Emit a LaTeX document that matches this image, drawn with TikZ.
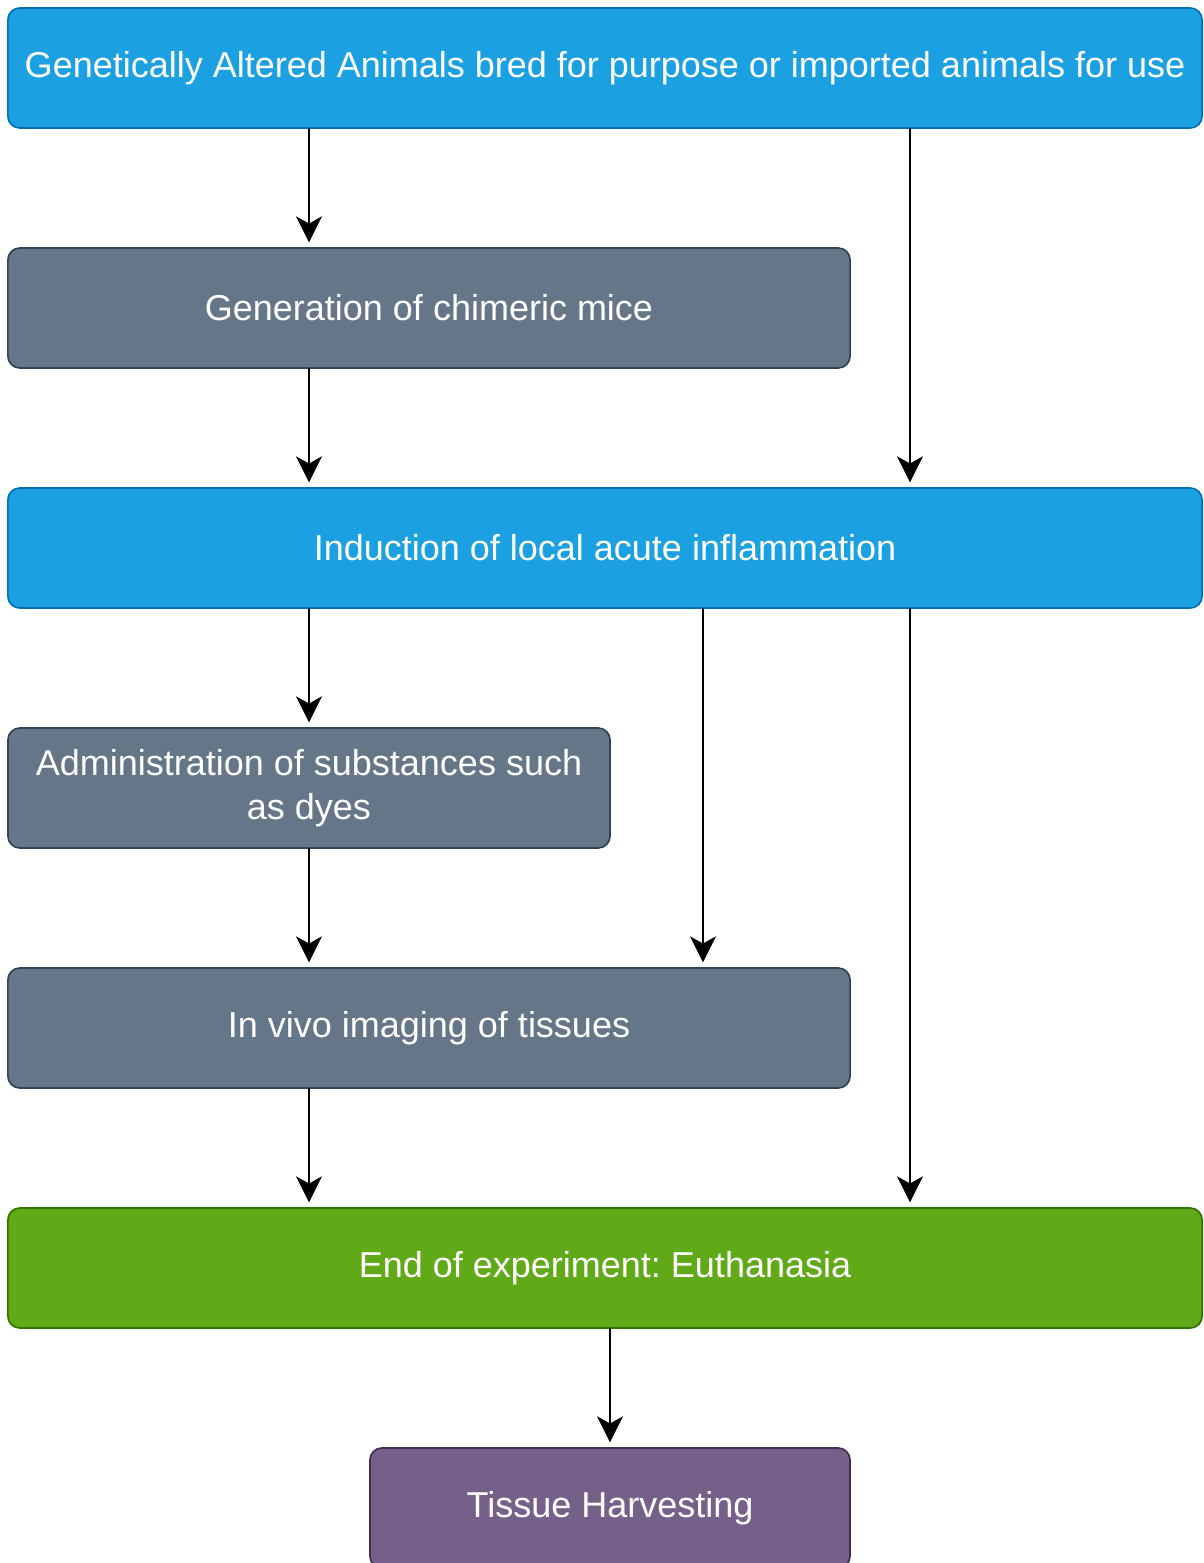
\documentclass[tikz,border=0pt]{standalone}
\usepackage{fontspec}
\setmainfont{Liberation Sans}
\frenchspacing
\usetikzlibrary{arrows.meta,positioning}
\definecolor{blueFill}{HTML}{1BA1E2}
\definecolor{blueLine}{HTML}{006EAF}
\definecolor{grayFill}{HTML}{647687}
\definecolor{grayLine}{HTML}{314354}
\definecolor{greenFill}{HTML}{60A917}
\definecolor{greenLine}{HTML}{2D7600}
\definecolor{purpleFill}{HTML}{76608A}
\definecolor{purpleLine}{HTML}{432D57}
\tikzset{
  box/.style={rounded corners=0.3cm, line width=1.2pt, text=white, align=center,
    inner sep=0pt, minimum height=3cm, font=\fontsize{25.6}{31.3}\selectfont},
  bluebox/.style={box, fill=blueFill, draw=blueLine},
  graybox/.style={box, fill=grayFill, draw=grayLine},
  greenbox/.style={box, fill=greenFill, draw=greenLine},
  purplebox/.style={box, fill=purpleFill, draw=purpleLine},
  arr/.style={draw=black, line width=1.6pt,
    -{Stealth[length=0.65cm, width=0.65cm, inset=0.18cm]}, shorten >=0.12cm}
}

\begin{document}
\begin{tikzpicture}[x=0.025cm, y=-0.025cm, line cap=round, line join=round]
  \useasboundingbox (0,0) rectangle (1203,1563);
  \clip (0,0) rectangle (1203,1563);
  % boxes
  \node[bluebox, minimum width=29.85cm] (gen) at (605,68)
    {Genetically Altered Animals bred for purpose or imported animals for use};
  \node[graybox, minimum width=21.05cm] (chim) at (429,308) {Generation of chimeric mice};
  \node[bluebox, minimum width=29.85cm] (ind) at (605,548) {Induction of local acute inflammation};
  \node[graybox, minimum width=15.05cm] (adm) at (309,788)
    {Administration of substances such\\as dyes};
  \node[graybox, minimum width=21.05cm] (viv) at (429,1028) {In vivo imaging of tissues};
  \node[greenbox, minimum width=29.85cm] (eut) at (605,1268) {End of experiment: Euthanasia};
  \node[purplebox, minimum width=12cm] (tis) at (610,1508) {Tissue Harvesting};
  % connectors
  \coordinate (right) at (910,0);
  \coordinate (mid) at (703,0);
  \draw[arr] (gen.south -| adm) -- (chim.north -| adm);
  \draw[arr] (gen.south -| right) -- (ind.north -| right);
  \draw[arr] (chim.south -| adm) -- (ind.north -| adm);
  \draw[arr] (ind.south -| adm) -- (adm.north);
  \draw[arr] (ind.south -| mid) -- (viv.north -| mid);
  \draw[arr] (ind.south -| right) -- (eut.north -| right);
  \draw[arr] (adm.south) -- (viv.north -| adm);
  \draw[arr] (viv.south -| adm) -- (eut.north -| adm);
  \draw[arr] (eut.south -| tis) -- (tis.north);
\end{tikzpicture}
\end{document}
